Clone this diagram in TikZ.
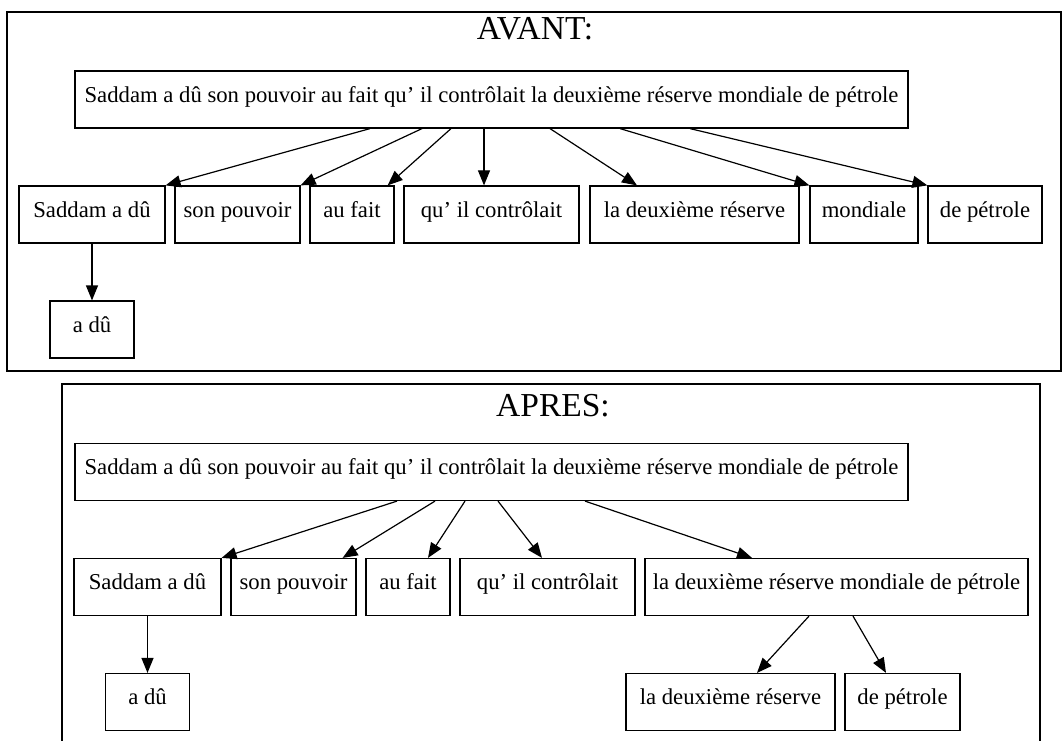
\documentclass[tikz,border=0pt]{standalone}
\usepackage{fontspec}
\setmainfont{Liberation Serif}
\usetikzlibrary{arrows.meta}
\tikzset{
  wbox/.style={draw, line width=1.2pt, minimum height=57pt, inner sep=1pt, text height=0.68em, text depth=0.1em, font=\fontsize{22.7}{26}\selectfont},
  warrow/.style={line width=1.2pt, -{Triangle[length=15pt,width=12pt]}},
  boxframe/.style={line width=1.2pt},
  ftitle/.style={font=\fontsize{33.5}{38}\selectfont}
}
\begin{document}
\begin{tikzpicture}[x=1pt,y=-1pt]
    \useasboundingbox (0,0) rectangle (1063,741);
    % AVANT
    \draw [boxframe] (7,12) rectangle (1061,371);
    \node [ftitle] (tavant) at (535,29) {AVANT:};
    \node [wbox, minimum width=833pt] (m1) at (491.5,99.5) {Saddam a dû son pouvoir au fait qu' il contrôlait la deuxième réserve mondiale de pétrole};
    \node [wbox, minimum width=146pt] (c1) at (92,214.5) {Saddam a dû};
    \node [wbox, minimum width=125pt] (c2) at (237.5,214.5) {son pouvoir};
    \node [wbox, minimum width=84pt] (c3) at (352,214.5) {au fait};
    \node [wbox, minimum width=175pt] (c4) at (491.5,214.5) {qu' il contrôlait};
    \node [wbox, minimum width=209pt] (c5) at (694.5,214.5) {la deuxième réserve};
    \node [wbox, minimum width=108pt] (c6) at (864,214.5) {mondiale};
    \node [wbox, minimum width=114pt] (c7) at (985,214.5) {de pétrole};
    \node [wbox, minimum width=84pt] (c8) at (92,329.5) {a dû};
    \draw [warrow] ([xshift=-121.5pt]m1.south) -- (c1.north east);
    \draw [warrow] ([xshift=-69.5pt]m1.south) -- (c2.north east);
    \draw [warrow] ([xshift=-40.5pt]m1.south) -- ([xshift=-7pt]c3.north east);
    \draw [warrow] ([xshift=-7.5pt]m1.south) -- ([xshift=-7.5pt]c4.north);
    \draw [warrow] ([xshift=58.5pt]m1.south) -- ([xshift=-57.5pt]c5.north);
    \draw [warrow] ([xshift=128.5pt]m1.south) -- (c6.north west);
    \draw [warrow] ([xshift=198.5pt]m1.south) -- (c7.north west);
    \draw [warrow] (c1) -- (c8);
    % APRES
    \draw [boxframe] (62,760) -- (62,384) -- (1040,384) -- (1040,760);
    \node [ftitle] (tapres) at (553,406) {APRES:};
    \node [wbox, minimum width=833pt] (m2) at (491.5,472) {Saddam a dû son pouvoir au fait qu' il contrôlait la deuxième réserve mondiale de pétrole};
    \node [wbox, minimum width=147pt] (d1) at (147.5,587) {Saddam a dû};
    \node [wbox, minimum width=125pt] (d2) at (293.5,587) {son pouvoir};
    \node [wbox, minimum width=84pt] (d3) at (408,587) {au fait};
    \node [wbox, minimum width=175pt] (d4) at (547.5,587) {qu' il contrôlait};
    \node [wbox, minimum width=383pt] (d5) at (836.5,587) {la deuxième réserve mondiale de pétrole};
    \node [wbox, minimum width=84pt] (d6) at (147.5,702) {a dû};
    \node [wbox, minimum width=209pt] (d7) at (730.5,702) {la deuxième réserve};
    \node [wbox, minimum width=115pt] (d8) at (902.5,702) {de pétrole};
    \draw [warrow] ([xshift=-94.5pt]m2.south) -- (d1.north east);
    \draw [warrow] ([xshift=-56.5pt]m2.south) -- ([xshift=-14pt]d2.north east);
    \draw [warrow] ([xshift=-26.5pt]m2.south) -- ([xshift=20pt]d3.north);
    \draw [warrow] ([xshift=6.5pt]m2.south) -- ([xshift=-5.5pt]d4.north);
    \draw [warrow] ([xshift=93.5pt]m2.south) -- ([xshift=-84.5pt]d5.north);
    \draw [warrow] (d1) -- (d6);
    \draw [warrow] ([xshift=-27.5pt]d5.south) -- ([xshift=26.5pt]d7.north);
    \draw [warrow] ([xshift=16.5pt]d5.south) -- ([xshift=-16.5pt]d8.north);
\end{tikzpicture}
\end{document}
